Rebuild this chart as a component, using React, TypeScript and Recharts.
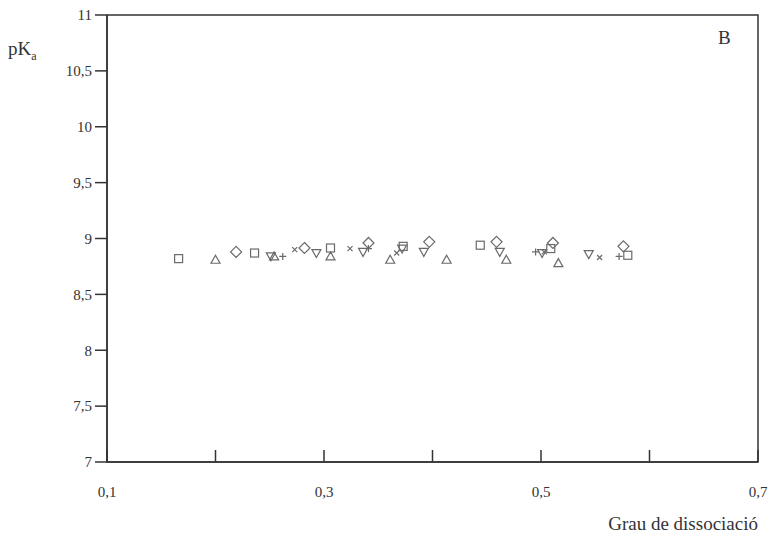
import React from 'react'
import {
  ScatterChart,
  Scatter,
  XAxis,
  YAxis,
  ReferenceArea,
} from 'recharts'

// Grau de dissociació vs pKa, series by marker shape
const squareX = [0.166, 0.236, 0.306, 0.373, 0.444, 0.509, 0.58]
const squareY = [8.82, 8.87, 8.915, 8.93, 8.94, 8.91, 8.85]

const diamondX = [0.219, 0.282, 0.341, 0.397, 0.459, 0.511, 0.576]
const diamondY = [8.88, 8.915, 8.96, 8.97, 8.97, 8.96, 8.93]

const triUpX = [0.2, 0.254, 0.306, 0.361, 0.413, 0.468, 0.516]
const triUpY = [8.81, 8.84, 8.84, 8.81, 8.81, 8.81, 8.78]

const triDownX = [0.251, 0.293, 0.336, 0.372, 0.392, 0.462, 0.501, 0.544]
const triDownY = [8.84, 8.87, 8.88, 8.91, 8.88, 8.88, 8.87, 8.86]

const crossX = [0.273, 0.324, 0.367, 0.503, 0.554]
const crossY = [8.9, 8.91, 8.87, 8.88, 8.83]

const plusX = [0.262, 0.341, 0.495, 0.572]
const plusY = [8.84, 8.91, 8.88, 8.84]

const xTicks = [0.1, 0.2, 0.3, 0.4, 0.5, 0.6, 0.7]
const xLabelled = [0.1, 0.3, 0.5, 0.7]
const yTicks = [7, 7.5, 8, 8.5, 9, 9.5, 10, 10.5, 11]

const FONT = '"Liberation Serif", "DejaVu Serif", serif'
const INK = '#333'
const MARK = '#6a6a6a'

const toPoints = (xs: number[], ys: number[]) => xs.map((x, i) => ({ x, y: ys[i] }))

const fmt = (v: number) => String(v).replace('.', ',')

const SquareShape = (p: any) => (
  <rect x={p.cx - 4} y={p.cy - 4} width={8} height={8} fill="none" stroke={MARK} strokeWidth={1.2} />
)
const DiamondShape = (p: any) => (
  <path d={`M${p.cx},${p.cy - 5.5}L${p.cx + 5.5},${p.cy}L${p.cx},${p.cy + 5.5}L${p.cx - 5.5},${p.cy}Z`} fill="none" stroke={MARK} strokeWidth={1.2} />
)
const TriUpShape = (p: any) => (
  <path d={`M${p.cx},${p.cy - 4.5}L${p.cx + 4.5},${p.cy + 3.5}L${p.cx - 4.5},${p.cy + 3.5}Z`} fill="none" stroke={MARK} strokeWidth={1.2} />
)
const TriDownShape = (p: any) => (
  <path d={`M${p.cx},${p.cy + 4.5}L${p.cx + 4.5},${p.cy - 3.5}L${p.cx - 4.5},${p.cy - 3.5}Z`} fill="none" stroke={MARK} strokeWidth={1.2} />
)
const CrossShape = (p: any) => (
  <path d={`M${p.cx - 2.5},${p.cy - 2.5}L${p.cx + 2.5},${p.cy + 2.5}M${p.cx + 2.5},${p.cy - 2.5}L${p.cx - 2.5},${p.cy + 2.5}`} stroke={MARK} strokeWidth={1.2} />
)
const PlusShape = (p: any) => (
  <path d={`M${p.cx - 3.5},${p.cy}L${p.cx + 3.5},${p.cy}M${p.cx},${p.cy - 3.5}L${p.cx},${p.cy + 3.5}`} stroke={MARK} strokeWidth={1.2} />
)

const XTick = (p: any) => {
  const v = p.payload.value
  const show = xLabelled.some((t) => Math.abs(t - v) < 1e-6)
  return (
    <g>
      <line x1={p.x} x2={p.x} y1={p.y} y2={p.y - 12} stroke={INK} strokeWidth={1.5} />
      {show && (
        <text x={p.x} y={p.y + 35} textAnchor="middle" fontFamily={FONT} fontSize={15} fill={INK}>
          {fmt(v)}
        </text>
      )}
    </g>
  )
}

export default function App() {
  return (
    <div style={{ position: 'absolute', left: 0, top: 0, width: 770, height: 540, background: '#fff' }}>
      <ScatterChart width={770} height={540} margin={{ top: 15, right: 12, bottom: 48, left: 0 }}>
        <XAxis
          type="number"
          dataKey="x"
          height={30}
          domain={[0.1, 0.7]}
          ticks={xTicks}
          interval={0}
          tickSize={0}
          tickMargin={0}
          tickLine={false}
          tick={<XTick />}
          axisLine={{ stroke: INK, strokeWidth: 1.5 }}
          allowDataOverflow
        />
        <YAxis
          type="number"
          dataKey="y"
          width={107}
          domain={[7, 11]}
          ticks={yTicks}
          interval={0}
          tickSize={12}
          tickMargin={3}
          tickFormatter={fmt}
          tickLine={{ stroke: INK, strokeWidth: 1.5 }}
          axisLine={{ stroke: INK, strokeWidth: 1.5 }}
          tick={{ fill: INK, fontFamily: FONT, fontSize: 15 }}
          allowDataOverflow
        />
        <ReferenceArea x1={0.1} x2={0.7} y1={7} y2={11} fill="none" stroke={INK} strokeWidth={1.5} ifOverflow="visible" />
        <Scatter data={toPoints(squareX, squareY)} shape={<SquareShape />} isAnimationActive={false} />
        <Scatter data={toPoints(diamondX, diamondY)} shape={<DiamondShape />} isAnimationActive={false} />
        <Scatter data={toPoints(triUpX, triUpY)} shape={<TriUpShape />} isAnimationActive={false} />
        <Scatter data={toPoints(triDownX, triDownY)} shape={<TriDownShape />} isAnimationActive={false} />
        <Scatter data={toPoints(crossX, crossY)} shape={<CrossShape />} isAnimationActive={false} />
        <Scatter data={toPoints(plusX, plusY)} shape={<PlusShape />} isAnimationActive={false} />
      </ScatterChart>
      <div style={{ position: 'absolute', left: 8, top: 38, fontFamily: FONT, fontSize: 19, color: INK }}>
        pK<sub style={{ fontSize: 12 }}>a</sub>
      </div>
      <div style={{ position: 'absolute', left: 718, top: 27, fontFamily: FONT, fontSize: 19, color: INK }}>B</div>
      <div style={{ position: 'absolute', right: 12, top: 513, fontFamily: FONT, fontSize: 19, color: INK }}>
        Grau de dissociació
      </div>
    </div>
  )
}
